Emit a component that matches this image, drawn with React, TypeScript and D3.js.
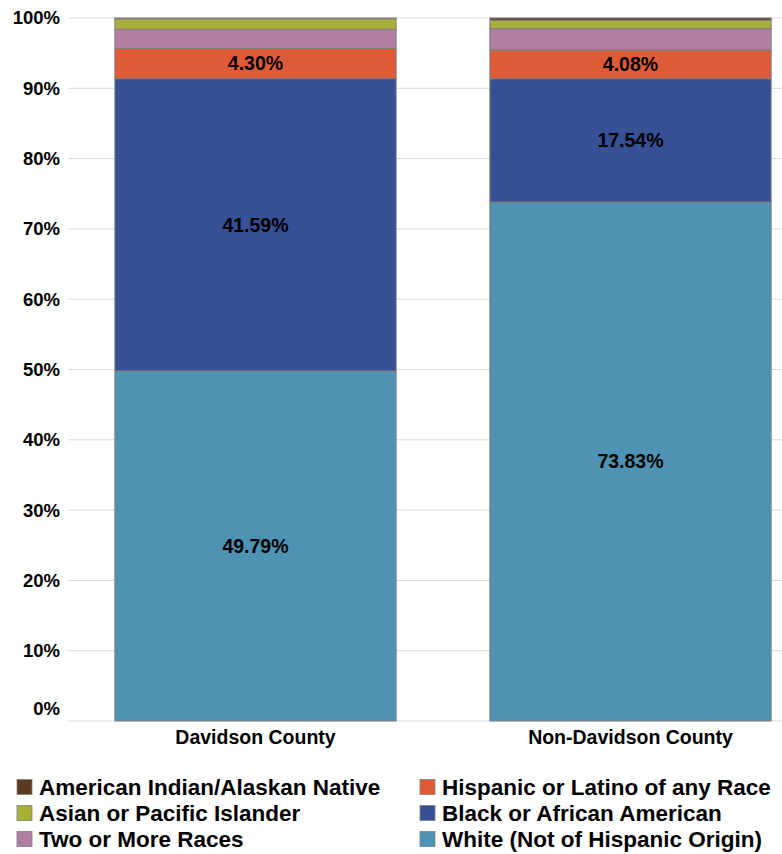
import React from "react";
import * as d3 from "d3";

const categories = ["Davidson County", "Non-Davidson County"];
const seriesNames = [
  "White (Not of Hispanic Origin)",
  "Black or African American",
  "Hispanic or Latino of any Race",
  "Two or More Races",
  "Asian or Pacific Islander",
  "American Indian/Alaskan Native",
];
const white = [49.79, 73.83];
const black = [41.59, 17.54];
const hispanic = [4.3, 4.08];
const twoOrMore = [2.72, 3.04];
const asian = [1.48, 1.2];
const amIndian = [0.12, 0.31];
const colors = ["#4f93b4", "#374f94", "#de5b38", "#b07fa3", "#a9b03a", "#5c3a1e"];
const labeled = [true, true, true, false, false, false];
const yTicks = [0, 10, 20, 30, 40, 50, 60, 70, 80, 90, 100];
const legendOrder = [
  [5, 2],
  [4, 1],
  [3, 0],
];

const W = 782;
const H = 854;
const FONT = "'Liberation Sans', Arial, sans-serif";

export default function App() {
  const values = [white, black, hispanic, twoOrMore, asian, amIndian];
  const rows = categories.map((c, i) => {
    const r: any = { cat: c };
    seriesNames.forEach((s, k) => (r[s] = values[k][i]));
    return r;
  });
  const stacked = d3.stack<any>().keys(seriesNames)(rows);

  const x = d3
    .scaleBand<string>()
    .domain(categories)
    .range([68, 818])
    .paddingInner(0.25)
    .paddingOuter(0.125);
  const y = d3.scaleLinear().domain([0, 100]).range([721, 18]);

  return (
    <svg width={W} height={H} style={{ display: "block", position: "absolute", left: 0, top: 0 }}>
      <rect width={W} height={H} fill="#fff" />
      {yTicks.map((t) => (
        <g key={t}>
          <line x1={68} x2={W} y1={y(t)} y2={y(t)} stroke="#d9d9d9" strokeWidth={1} />
          <text
            x={60}
            y={t === 0 ? y(t) - 12 : y(t)}
            dy="0.35em"
            textAnchor="end"
            fontFamily={FONT}
            fontWeight="bold"
            fontSize={18.5}
            fill="#000"
          >
            {t}%
          </text>
        </g>
      ))}
      {stacked.map((layer, k) => (
        <g key={layer.key}>
          {layer.map((d, i) => (
            <rect
              key={i}
              x={x(categories[i])!}
              width={x.bandwidth()}
              y={y(d[1])}
              height={y(d[0]) - y(d[1])}
              fill={colors[k]}
              stroke="#7f7f7f"
              strokeWidth={1}
            />
          ))}
        </g>
      ))}
      {stacked.map((layer, k) =>
        labeled[k]
          ? layer.map((d, i) => (
              <text
                key={layer.key + i}
                x={x(categories[i])! + x.bandwidth() / 2}
                y={(y(d[0]) + y(d[1])) / 2}
                dy="0.35em"
                textAnchor="middle"
                fontFamily={FONT}
                fontWeight="bold"
                fontSize={19.5}
                fill="#000"
              >
                {(d[1] - d[0]).toFixed(2)}%
              </text>
            ))
          : null
      )}
      {categories.map((c) => (
        <text
          key={c}
          x={x(c)! + x.bandwidth() / 2}
          y={737}
          dy="0.35em"
          textAnchor="middle"
          fontFamily={FONT}
          fontWeight="bold"
          fontSize={19.5}
          fill="#000"
        >
          {c}
        </text>
      ))}
      {legendOrder.map((row, r) =>
        row.map((k, c) => {
          const lx = c === 0 ? 17 : 420;
          const ly = 787 + r * 26;
          return (
            <g key={k}>
              <rect x={lx} y={ly - 7.5} width={15} height={15} fill={colors[k]} stroke="#7f7f7f" strokeWidth={0.8} />
              <text
                x={lx + 22}
                y={ly}
                dy="0.35em"
                fontFamily={FONT}
                fontWeight="bold"
                fontSize={22.5}
                fill="#000"
              >
                {seriesNames[k]}
              </text>
            </g>
          );
        })
      )}
    </svg>
  );
}
